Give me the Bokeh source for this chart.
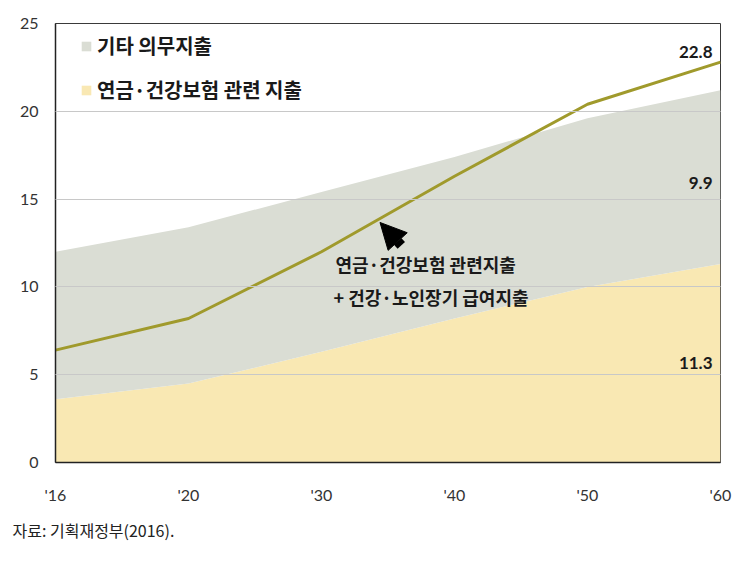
from bokeh.plotting import figure
from bokeh.models import Range1d, FixedTicker, Legend, LegendItem, Label, Arrow, NormalHead, ColumnDataSource, Title
from bokeh.core.properties import value
from bokeh.embed import file_html
from bokeh.resources import INLINE

# ---- data ----
years = ["'16", "'20", "'30", "'40", "'50", "'60"]
pension_health = [3.6, 4.5, 6.3, 8.2, 10.0, 11.3]      # 연금·건강보험 관련 지출
other_mandatory = [8.4, 8.9, 9.1, 9.2, 9.6, 9.9]       # 기타 의무지출
total_line = [6.4, 8.2, 12.0, 16.3, 20.4, 22.8]        # 연금·건강보험 관련지출 + 건강·노인장기 급여지출
y_ticks = [0, 5, 10, 15, 20, 25]

xs = list(range(len(years)))
stack_top = [a + b for a, b in zip(pension_health, other_mandatory)]

KR = "Noto Sans CJK KR"
NUM = "Lato"

p = figure(width=750, height=555, output_backend="svg", toolbar_location=None,
           x_range=Range1d(0, len(years) - 1), y_range=Range1d(0, 25),
           min_border_left=55, min_border_right=30, min_border_top=23, min_border_bottom=93)
p.background_fill_color = "white"
p.border_fill_color = "white"
p.outline_line_color = "#3a3a3a"
p.outline_line_width = 1

src = ColumnDataSource(dict(x=xs, ph=pension_health, top=stack_top, line=total_line))

r_yel = p.varea(x="x", y1=0, y2="ph", source=src, fill_color="#F9E8B3")
r_gray = p.varea(x="x", y1="ph", y2="top", source=src, fill_color="#DADDD4")
p.line(x="x", y="line", source=src, line_color="#A09A2C", line_width=3)

# grid
p.xgrid.visible = False
p.ygrid.ticker = FixedTicker(ticks=y_ticks)
p.ygrid.grid_line_color = "#c8c8c8"
p.ygrid.grid_line_width = 1
p.ygrid.level = "annotation"

# axes
p.xaxis.ticker = FixedTicker(ticks=xs)
p.xaxis.major_label_overrides = {i: t for i, t in enumerate(years)}
p.yaxis.ticker = FixedTicker(ticks=y_ticks)
for ax in (p.xaxis, p.yaxis):
    ax.major_tick_in = 0
    ax.major_tick_out = 0
    ax.minor_tick_line_color = None
    ax.axis_line_color = "#222222"
    ax.axis_line_width = 1.5
    ax.major_label_text_font = NUM
    ax.major_label_text_font_size = "16px"
    ax.major_label_text_color = "#333333"
p.xaxis.major_label_standoff = 22
p.yaxis.major_label_standoff = 17

# legend
legend = Legend(items=[LegendItem(label="기타 의무지출", renderers=[r_gray]),
                       LegendItem(label="연금·건강보험 관련 지출", renderers=[r_yel])],
                location=(25, 358), orientation="vertical",
                glyph_width=12, glyph_height=12, label_height=20, label_width=10,
                spacing=15, padding=0, margin=0, label_standoff=5,
                label_text_font=KR, label_text_font_size="20px", label_text_font_style="bold",
                label_text_color="#1a1a1a",
                background_fill_alpha=0, border_line_alpha=0)
p.add_layout(legend)

# value labels at the right end
last = len(years) - 1
lab_kw = dict(text_align="right", text_baseline="middle", text_font=NUM,
              text_font_size="17px", text_font_style="bold", text_color="#1a1a1a")
p.add_layout(Label(x=last, y=total_line[last], x_offset=-8, y_offset=10,
                   text=f"{total_line[last]}", **lab_kw))
p.add_layout(Label(x=last, y=(pension_health[last] + stack_top[last]) / 2, x_offset=-8, y_offset=-6,
                   text=f"{other_mandatory[last]}", **lab_kw))
p.add_layout(Label(x=last, y=pension_health[last] / 2, x_offset=-8, y_offset=0,
                   text=f"{pension_health[last]}", **lab_kw))

# annotation arrow and text
p.add_layout(Arrow(end=NormalHead(size=26, fill_color="black", line_color="black"),
                   x_start=2.60, y_start=12.36, x_end=2.44, y_end=13.67,
                   line_width=10, line_color="black"))
ann_kw = dict(text_align="left", text_baseline="middle", text_font=KR, text_font_size="18px",
              text_font_style="bold", text_color="#1a1a1a")
p.add_layout(Label(x=2.105, y=11.33, text="연금·건강보험 관련지출", **ann_kw))
p.add_layout(Label(x=2.09, y=9.4, text="+ 건강·노인장기 급여지출", **ann_kw))

# source note
p.add_layout(Title(text="자료:  기획재정부(2016).", align="left", offset=-43, standoff=18,
                   text_font=KR, text_font_size="16px", text_font_style="normal",
                   text_color="#222222"), "below")

open("out.html", "w").write(file_html(p, INLINE))
